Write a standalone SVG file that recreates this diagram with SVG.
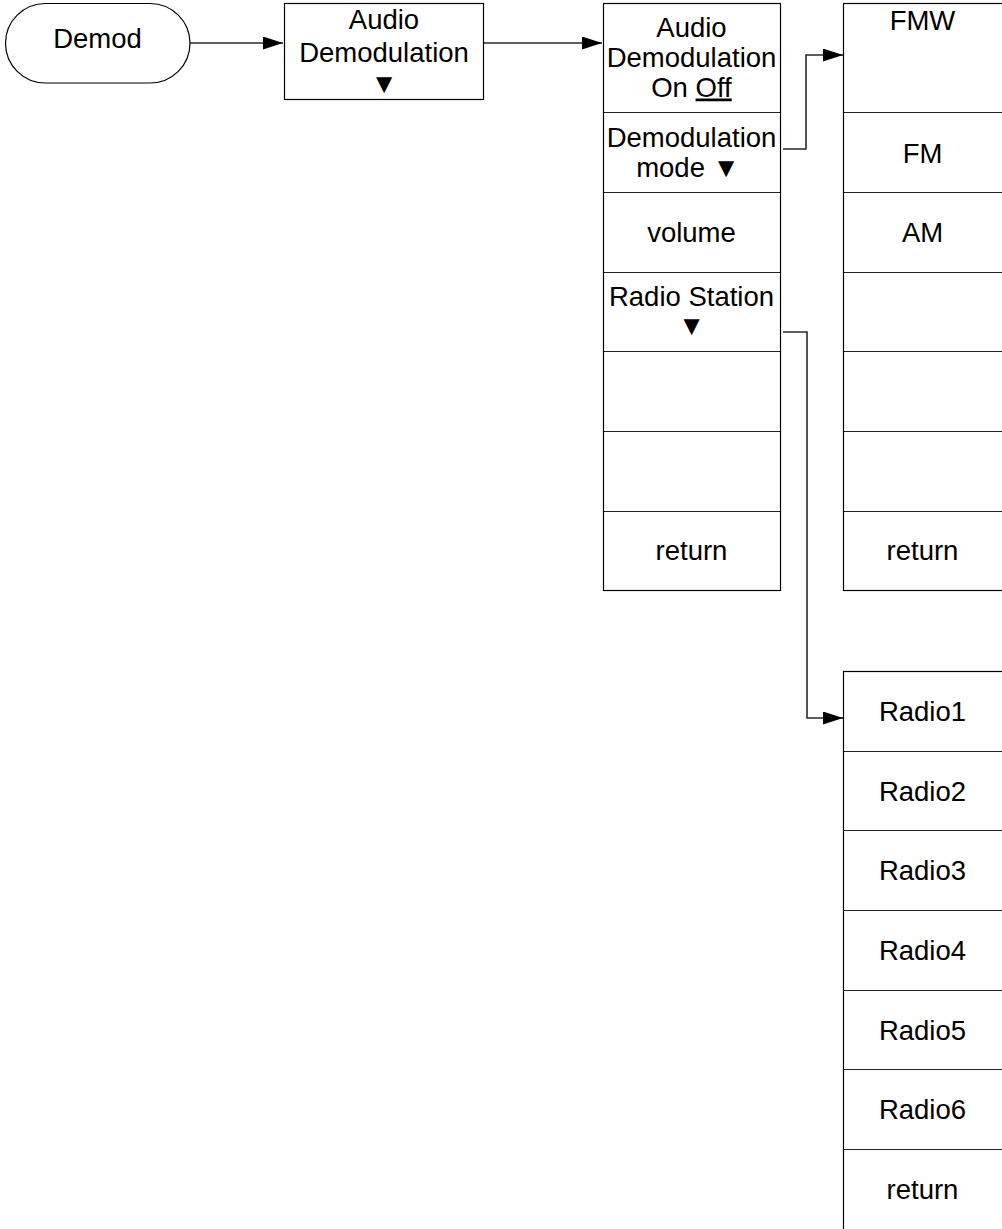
<svg xmlns="http://www.w3.org/2000/svg" width="1002" height="1229" viewBox="0 0 1002 1229">
<style>
.box{fill:#fff;stroke:#000;stroke-width:1.2}
.dv{stroke:#222;stroke-width:1}
.t{font-family:"Liberation Sans",Arial,sans-serif;font-size:27.5px;text-anchor:middle;fill:#000}
.conn{fill:none;stroke:#2a2a2a;stroke-width:1.6}
</style>
<defs>
<marker id="arr" markerUnits="userSpaceOnUse" markerWidth="22" markerHeight="14" refX="20" refY="6.5" orient="auto">
<path d="M0,0 L20,6.5 L0,13 z" fill="#000"/>
</marker>
</defs>
<rect width="1002" height="1229" fill="#fff"/>
<g id="connectors">
<path class="conn" d="M190,43 H283" marker-end="url(#arr)"/>
<path class="conn" d="M484,43 H602" marker-end="url(#arr)"/>
<path class="conn" d="M783,149 H806 V55 H843" marker-end="url(#arr)"/>
<path class="conn" d="M783,332 H807 V718 H843" marker-end="url(#arr)"/>
</g>
<g id="demod">
<rect class="box" x="5.5" y="3.5" width="184.5" height="79.5" rx="40" ry="40"/>
<text class="t" x="97.5" y="48">Demod</text>
</g>
<g id="audio-demod">
<rect class="box" x="284.5" y="3.5" width="199" height="96"/>
<text class="t" x="384" y="29">Audio</text>
<text class="t" x="384" y="62">Demodulation</text>
<text class="t" x="384" y="93">▼</text>
</g>
<g id="menu1">
<rect class="box" x="603.5" y="3.5" width="177" height="587"/>
<line class="dv" x1="603.5" y1="112.5" x2="780.5" y2="112.5"/>
<line class="dv" x1="603.5" y1="192.5" x2="780.5" y2="192.5"/>
<line class="dv" x1="603.5" y1="272.5" x2="780.5" y2="272.5"/>
<line class="dv" x1="603.5" y1="351.5" x2="780.5" y2="351.5"/>
<line class="dv" x1="603.5" y1="431.5" x2="780.5" y2="431.5"/>
<line class="dv" x1="603.5" y1="511.5" x2="780.5" y2="511.5"/>
<text class="t" x="691.5" y="37">Audio</text>
<text class="t" x="691.5" y="67">Demodulation</text>
<text class="t" x="691.5" y="96.5">On <tspan text-decoration="underline">Off</tspan></text>
<text class="t" x="691.5" y="147">Demodulation</text>
<text class="t" x="688" y="177">mode ▼</text>
<text class="t" x="691.5" y="241.5">volume</text>
<text class="t" x="691.5" y="306">Radio Station</text>
<text class="t" x="691.5" y="335">▼</text>
<text class="t" x="691.5" y="560">return</text>
</g>
<g id="menu-mode">
<rect class="box" x="843.5" y="3.5" width="162" height="587"/>
<line class="dv" x1="843.5" y1="112.5" x2="1002" y2="112.5"/>
<line class="dv" x1="843.5" y1="192.5" x2="1002" y2="192.5"/>
<line class="dv" x1="843.5" y1="272.5" x2="1002" y2="272.5"/>
<line class="dv" x1="843.5" y1="351.5" x2="1002" y2="351.5"/>
<line class="dv" x1="843.5" y1="431.5" x2="1002" y2="431.5"/>
<line class="dv" x1="843.5" y1="511.5" x2="1002" y2="511.5"/>
<text class="t" x="922.5" y="30">FMW</text>
<text class="t" x="922.5" y="163">FM</text>
<text class="t" x="922.5" y="241.5">AM</text>
<text class="t" x="922.5" y="560">return</text>
</g>
<g id="menu-radio">
<rect class="box" x="843.5" y="671.5" width="162" height="562"/>
<line class="dv" x1="843.5" y1="751.5" x2="1002" y2="751.5"/>
<line class="dv" x1="843.5" y1="830.5" x2="1002" y2="830.5"/>
<line class="dv" x1="843.5" y1="910.5" x2="1002" y2="910.5"/>
<line class="dv" x1="843.5" y1="990.5" x2="1002" y2="990.5"/>
<line class="dv" x1="843.5" y1="1069.5" x2="1002" y2="1069.5"/>
<line class="dv" x1="843.5" y1="1149.5" x2="1002" y2="1149.5"/>
<text class="t" x="922.5" y="721">Radio1</text>
<text class="t" x="922.5" y="800.5">Radio2</text>
<text class="t" x="922.5" y="880">Radio3</text>
<text class="t" x="922.5" y="960">Radio4</text>
<text class="t" x="922.5" y="1039.5">Radio5</text>
<text class="t" x="922.5" y="1119">Radio6</text>
<text class="t" x="922.5" y="1199">return</text>
</g>
</svg>
